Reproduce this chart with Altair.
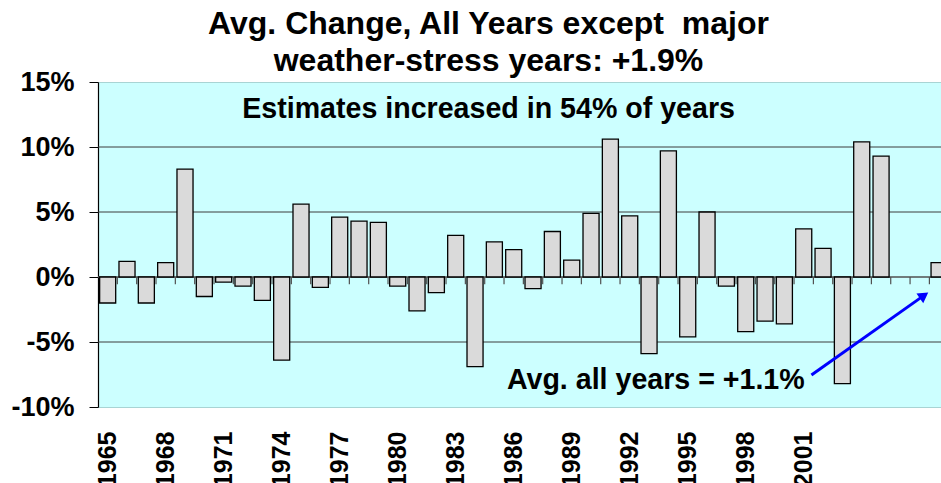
import altair as alt
import pandas as pd

FONT = "Liberation Sans"

# ---- data -------------------------------------------------------------
categories = ["1965", "1966", "1967", "1968", "1969", "1970", "1971", "1972",
              "1973", "1974", "1975", "1976", "1977", "1978", "1979", "1980",
              "1981", "1982", "1983", "1984", "1985", "1986", "1987", "1988",
              "1989", "1990", "1991", "1992", "1993", "1994", "1995", "1996",
              "1997", "1998", "1999", "2000", "2001", "2002", "2003", "2004",
              "2005", "", "", "Avg"]
values = [-2.0, 1.2, -2.0, 1.1, 8.3, -1.5, -0.4, -0.7,
          -1.8, -6.4, 5.6, -0.8, 4.6, 4.3, 4.2, -0.7,
          -2.6, -1.2, 3.2, -6.9, 2.7, 2.1, -0.9, 3.5,
          1.3, 4.9, 10.6, 4.7, -5.9, 9.7, -4.6, 5.0,
          -0.7, -4.2, -3.4, -3.6, 3.7, 2.2, -8.2, 10.4,
          9.3, None, None, 1.1]
tick_years = ["1965", "1968", "1971", "1974", "1977", "1980", "1983",
              "1986", "1989", "1992", "1995", "1998", "2001"]
y_ticks = [-10, -5, 0, 5, 10, 15]
grid_values = [-5, 5, 10]

title_lines = ["Avg. Change, All Years except\u00a0 major",
               "weather-stress years: +1.9%"]
note_top = "Estimates increased in 54% of years"
note_avg = "Avg. all years = +1.1%"

df = pd.DataFrame({"idx": list(range(len(categories))),
                   "label": categories,
                   "value": values})

# ---- scales / axes ----------------------------------------------------
xscale = alt.Scale(domain=[0, 43.6], nice=False, zero=False)
yscale = alt.Scale(domain=[-10, 15], nice=False, zero=False)

labels_js = "[" + ",".join("'%s'" % c for c in categories) + "]"
xaxis = alt.Axis(values=[categories.index(y) + 0.5 for y in tick_years],
                 labelExpr=labels_js + "[floor(datum.value)]",
                 labelAngle=270, labelFont=FONT, labelFontSize=25,
                 labelFontWeight="bold", labelColor="black",
                 labelPadding=24, ticks=False, domain=False, grid=False,
                 title=None, labelOverlap=False)
yaxis = alt.Axis(values=y_ticks, labelExpr="datum.value + '%'",
                 labelFont=FONT, labelFontSize=27, labelFontWeight="bold",
                 labelColor="black", labelPadding=15, tickSize=9,
                 tickColor="black", domainColor="black", domainWidth=1.2,
                 grid=False, title=None)

# ---- layers -----------------------------------------------------------
grid = alt.Chart(pd.DataFrame({"g": grid_values})).mark_rule(
    color="#3c3c3c", strokeWidth=1
).encode(y=alt.Y("g:Q", scale=yscale, axis=yaxis))

zero = alt.Chart(pd.DataFrame({"z": [0]})).mark_rule(
    color="#505050", strokeWidth=1.5
).encode(y=alt.Y("z:Q", scale=yscale, axis=yaxis))

ticks = alt.Chart(pd.DataFrame({"b": list(range(1, 44))})).mark_rule(
    color="#505050", strokeWidth=1.2, clip=True
).encode(x=alt.X("b:Q", scale=xscale, axis=xaxis),
         y=alt.datum(0), y2=alt.datum(-0.55))

bars = alt.Chart(df).transform_filter("isValid(datum.value)").transform_calculate(
    x0="datum.idx + 0.085", x1="datum.idx + 0.915"
).mark_rect(fill="#dadada", stroke="black", strokeWidth=1.3, clip=True).encode(
    x=alt.X("x0:Q", scale=xscale, axis=xaxis),
    x2="x1:Q",
    y=alt.Y("value:Q", scale=yscale, axis=yaxis),
    y2=alt.datum(0),
)

notes = pd.DataFrame({"t": [note_top, note_avg],
                      "x": [20.2, 36.55], "y": [12.95, -7.95]})
txt_top = alt.Chart(notes.iloc[[0]]).mark_text(
    font=FONT, fontSize=28.6, fontWeight="bold", color="black",
    align="center", baseline="middle"
).encode(x=alt.X("x:Q", scale=xscale, axis=xaxis),
         y=alt.Y("y:Q", scale=yscale, axis=yaxis), text="t:N")
txt_avg = alt.Chart(notes.iloc[[1]]).mark_text(
    font=FONT, fontSize=28.6, fontWeight="bold", color="black",
    align="right", baseline="middle"
).encode(x=alt.X("x:Q", scale=xscale, axis=xaxis),
         y=alt.Y("y:Q", scale=yscale, axis=yaxis), text="t:N")

arrow = pd.DataFrame({"x": [36.9], "y": [-7.54], "x2": [42.65], "y2": [-1.49]})
arrow_line = alt.Chart(arrow).mark_rule(color="#0000ff", strokeWidth=3).encode(
    x=alt.X("x:Q", scale=xscale, axis=xaxis),
    y=alt.Y("y:Q", scale=yscale, axis=yaxis),
    x2="x2:Q", y2="y2:Q")
arrow_head = alt.Chart(arrow).mark_point(
    shape="triangle", filled=True, color="#0000ff", size=140, angle=55, opacity=1
).encode(x=alt.X("x2:Q", scale=xscale, axis=xaxis),
         y=alt.Y("y2:Q", scale=yscale, axis=yaxis))

chart = alt.layer(grid, zero, ticks, bars, txt_top, txt_avg, arrow_line, arrow_head).properties(
    width=843, height=325,
    title=alt.TitleParams(text=title_lines, font=FONT, fontSize=32,
                          fontWeight="bold", color="black", anchor="middle",
                          frame="group", dx=-31, offset=-10, lineHeight=37),
    autosize=alt.AutoSizeParams(type="none"),
    padding={"left": 98, "top": 82, "right": 0, "bottom": 76},
).configure_view(fill="#ccffff", stroke="#a8d4d4", strokeWidth=1)

chart.save("out.html", embed_options={"renderer": "svg", "actions": False})
